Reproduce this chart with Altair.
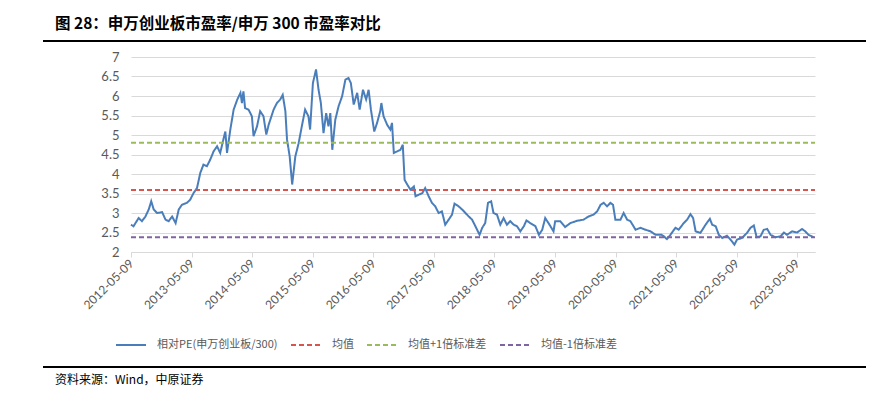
import altair as alt
import pandas as pd

# ---------------- data ----------------
dates = [
    "2012-05-09", "2012-05-24", "2012-06-24", "2012-07-14", "2012-08-04", "2012-08-24",
    "2012-09-08", "2012-09-23", "2012-10-13", "2012-11-13", "2012-12-03", "2012-12-22",
    "2013-01-12", "2013-02-02", "2013-02-21", "2013-03-12", "2013-04-11", "2013-05-01",
    "2013-05-21", "2013-06-11", "2013-07-01", "2013-07-20", "2013-08-10", "2013-08-30",
    "2013-09-19", "2013-10-10", "2013-10-29", "2013-11-19", "2013-11-29", "2013-12-09",
    "2013-12-29", "2014-01-18", "2014-02-09", "2014-02-28", "2014-03-09", "2014-03-18",
    "2014-03-28", "2014-04-18", "2014-05-08", "2014-05-18", "2014-06-08", "2014-06-27",
    "2014-07-17", "2014-08-03", "2014-08-17", "2014-09-16", "2014-10-06", "2014-10-26",
    "2014-11-10", "2014-11-26", "2014-12-06", "2014-12-22", "2015-01-06", "2015-01-25",
    "2015-02-14", "2015-03-05", "2015-03-25", "2015-04-14", "2015-04-24", "2015-05-11",
    "2015-05-30", "2015-06-14", "2015-06-28", "2015-07-14", "2015-07-30", "2015-08-13",
    "2015-08-24", "2015-09-05", "2015-09-23", "2015-10-13", "2015-11-03", "2015-11-23",
    "2015-12-12", "2015-12-26", "2016-01-12", "2016-02-02", "2016-02-17", "2016-03-08",
    "2016-03-27", "2016-04-11", "2016-04-25", "2016-05-15", "2016-06-01", "2016-06-20",
    "2016-06-27", "2016-07-10", "2016-08-01", "2016-08-20", "2016-08-30", "2016-09-10",
    "2016-09-30", "2016-10-20", "2016-11-03", "2016-11-14", "2016-11-30", "2016-12-19",
    "2017-01-09", "2017-01-19", "2017-02-08", "2017-03-01", "2017-03-18", "2017-04-08",
    "2017-04-28", "2017-05-18", "2017-06-07", "2017-06-27", "2017-07-17", "2017-08-07",
    "2017-08-27", "2017-09-11", "2017-10-06", "2017-10-27", "2017-11-16", "2017-12-06",
    "2017-12-26", "2018-01-15", "2018-02-09", "2018-02-25", "2018-03-15", "2018-04-01",
    "2018-04-20", "2018-05-04", "2018-05-25", "2018-06-14", "2018-07-04", "2018-07-24",
    "2018-08-13", "2018-09-03", "2018-09-23", "2018-10-13", "2018-11-03", "2018-11-19",
    "2018-12-12", "2019-01-12", "2019-02-02", "2019-02-22", "2019-03-12", "2019-04-01",
    "2019-05-01", "2019-05-11", "2019-06-11", "2019-07-10", "2019-08-10", "2019-09-20",
    "2019-10-29", "2019-11-29", "2019-12-29", "2020-01-19", "2020-02-09", "2020-02-28",
    "2020-03-19", "2020-04-08", "2020-04-24", "2020-05-08", "2020-06-08", "2020-06-27",
    "2020-07-18", "2020-08-07", "2020-09-07", "2020-10-06", "2020-11-06", "2020-12-06",
    "2021-01-06", "2021-02-11", "2021-02-25", "2021-03-15", "2021-04-05", "2021-05-05",
    "2021-05-25", "2021-06-24", "2021-07-15", "2021-08-04", "2021-08-20", "2021-09-04",
    "2021-10-03", "2021-11-03", "2021-11-29", "2021-12-13", "2022-01-03", "2022-01-22",
    "2022-02-12", "2022-03-12", "2022-04-02", "2022-04-26", "2022-05-12", "2022-06-11",
    "2022-07-11", "2022-08-01", "2022-08-21", "2022-09-07", "2022-09-30", "2022-10-20",
    "2022-11-10", "2022-11-30", "2022-12-29", "2023-01-29", "2023-02-19", "2023-03-09",
    "2023-04-09", "2023-05-09", "2023-06-08", "2023-06-27", "2023-07-17", "2023-08-17",
]
rel_pe = [
    2.70, 2.66, 2.87, 2.79, 2.91, 3.09,
    3.30, 3.09, 3.00, 3.02, 2.83, 2.79,
    2.91, 2.74, 3.09, 3.21, 3.26, 3.34,
    3.51, 3.64, 4.03, 4.24, 4.20, 4.37,
    4.58, 4.71, 4.54, 4.92, 5.09, 4.54,
    5.14, 5.65, 5.91, 6.08, 5.82, 6.12,
    5.69, 5.65, 5.48, 4.97, 5.22, 5.61,
    5.48, 5.01, 5.26, 5.65, 5.82, 5.91,
    6.03, 5.61, 4.88, 4.45, 3.73, 4.45,
    4.79, 5.22, 5.65, 5.48, 5.14, 6.33,
    6.68, 6.16, 5.82, 5.05, 5.56, 5.22,
    5.56, 4.62, 5.39, 5.74, 5.99, 6.42,
    6.46, 6.33, 5.78, 6.08, 5.65, 6.16,
    5.91, 6.16, 5.65, 5.09, 5.31, 5.61,
    5.82, 5.48, 5.26, 5.14, 5.31, 4.54,
    4.58, 4.62, 4.75, 3.85, 3.73, 3.60,
    3.68, 3.43, 3.47, 3.51, 3.64, 3.43,
    3.26, 3.17, 3.00, 3.04, 2.70, 2.83,
    2.96, 3.24, 3.17, 3.09, 3.00, 2.91,
    2.83, 2.66, 2.44, 2.62, 2.74, 3.26,
    3.30, 3.00, 2.96, 2.70, 2.87, 2.70,
    2.79, 2.70, 2.66, 2.53, 2.66, 2.81,
    2.74, 2.66, 2.44, 2.57, 2.87, 2.74,
    2.53, 2.79, 2.79, 2.64, 2.74, 2.80,
    2.83, 2.91, 2.96, 3.04, 3.21, 3.26,
    3.17, 3.26, 3.21, 2.83, 2.83, 3.00,
    2.83, 2.79, 2.57, 2.62, 2.57, 2.53,
    2.44, 2.44, 2.40, 2.33, 2.44, 2.62,
    2.57, 2.74, 2.83, 2.97, 2.87, 2.53,
    2.49, 2.70, 2.85, 2.70, 2.66, 2.44,
    2.36, 2.42, 2.32, 2.19, 2.32, 2.36,
    2.49, 2.62, 2.68, 2.38, 2.40, 2.57,
    2.59, 2.44, 2.38, 2.40, 2.50, 2.44,
    2.53, 2.50, 2.59, 2.53, 2.44, 2.38,
]

series_names = ["相对PE(申万创业板/300)", "均值", "均值+1倍标准差", "均值-1倍标准差"]
series_colors = ["#4A7EBB", "#D9534F", "#9BBB59", "#8064A2"]
ref_values = [3.59, 4.80, 2.38]          # mean, mean+1sd, mean-1sd
x_start, x_end = "2012-05-09", "2023-08-25"
tick_years = list(range(2012, 2024))     # ticks on every 05-09
y_ticks = [2, 2.5, 3, 3.5, 4, 4.5, 5, 5.5, 6, 6.5, 7]

title_text = "图 28：申万创业板市盈率/申万 300 市盈率对比"
source_text = "资料来源：Wind，中原证券"

# ---------------- tables ----------------
main_df = pd.DataFrame({"date": pd.to_datetime(dates), "value": rel_pe,
                        "series": series_names[0]})
ref_rows = []
for name, v in zip(series_names[1:], ref_values):
    ref_rows.append({"date": x_start, "value": v, "series": name})
    ref_rows.append({"date": x_end, "value": v, "series": name})
ref_df = pd.DataFrame(ref_rows)
ref_df["date"] = pd.to_datetime(ref_df["date"])

FONT = "Lato"
CJK = "Noto Sans CJK SC"
GRAY = "#595959"

x_enc = alt.X(
    "date:T",
    scale=alt.Scale(domain=[alt.DateTime(year=2012, month=5, date=9),
                            alt.DateTime(year=2023, month=8, date=25)]),
    axis=alt.Axis(
        values=[alt.DateTime(year=y, month=5, date=9) for y in tick_years],
        format="%Y-%m-%d", labelAngle=-45, labelAlign="right", labelBaseline="middle",
        labelFont=FONT, labelFontSize=12, labelColor=GRAY, labelPadding=4,
        domainColor="#D9D9D9", tickColor="#D9D9D9", tickSize=5, grid=False, title=None,
        labelOverlap=False,
    ),
)
y_enc = alt.Y(
    "value:Q",
    scale=alt.Scale(domain=[2, 7], nice=False, zero=False),
    axis=alt.Axis(values=y_ticks, format=".1~f", labelFont=FONT, labelFontSize=13,
                  labelColor=GRAY, labelPadding=12, ticks=False, domain=False,
                  grid=True, gridColor="#D9D9D9", gridWidth=1, title=None),
)
color_enc = alt.Color(
    "series:N",
    scale=alt.Scale(domain=series_names, range=series_colors),
    legend=alt.Legend(
        title=None, orient="none", legendX=-16, legendY=272, direction="horizontal",
        symbolType="stroke", symbolSize=900, symbolStrokeWidth=2,
        labelFont=CJK, labelFontSize=11, labelColor=GRAY, labelOffset=10,
        columnPadding=9, padding=0, gridAlign="none",
    ),
)
dash_enc = alt.StrokeDash(
    "series:N",
    scale=alt.Scale(domain=series_names, range=[[1, 0], [5, 3], [5, 3], [5, 3]]),
    legend=None,
)

main_line = alt.Chart(main_df).mark_line(strokeWidth=2).encode(
    x=x_enc, y=y_enc, color=color_enc, strokeDash=dash_enc
)
ref_lines = alt.Chart(ref_df).mark_line(strokeWidth=2).encode(
    x=x_enc, y=y_enc, color=color_enc, strokeDash=dash_enc, detail="series:N"
)

title_mark = alt.Chart(pd.DataFrame({"t": [title_text]})).mark_text(
    font=CJK, fontSize=15.5, fontWeight="bold", align="left", baseline="middle",
    color="#000000"
).encode(text="t:N", x=alt.value(-76), y=alt.value(-33))

source_mark = alt.Chart(pd.DataFrame({"t": [source_text]})).mark_text(
    font=CJK, fontSize=12, align="left", baseline="middle", color="#000000"
).encode(text="t:N", x=alt.value(-76), y=alt.value(323))

top_rule = alt.Chart(pd.DataFrame({"k": [0]})).mark_rule(
    color="#000000", strokeWidth=2
).encode(x=alt.value(-88), x2=alt.value(735), y=alt.value(-16))

bottom_rule = alt.Chart(pd.DataFrame({"k": [0]})).mark_rule(
    color="#000000", strokeWidth=2
).encode(x=alt.value(-88), x2=alt.value(735), y=alt.value(310))

chart = alt.layer(
    main_line, ref_lines, title_mark, source_mark, top_rule, bottom_rule
).properties(
    width=684, height=195,
    autosize=alt.AutoSizeParams(type="none"),
    padding={"left": 123, "top": 49, "right": 67, "bottom": 139},
).configure_view(stroke=None)

chart.save("out.html", embed_options={"renderer": "svg", "actions": False})
